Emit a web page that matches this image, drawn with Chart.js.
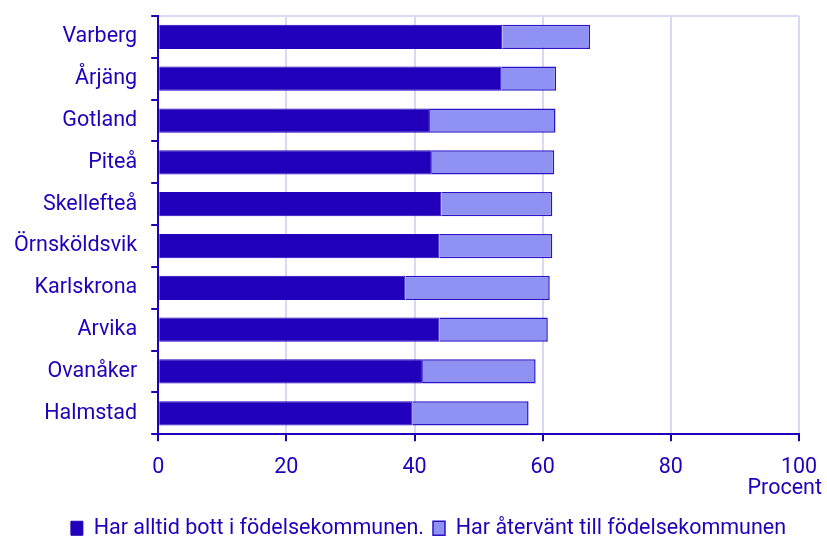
<!DOCTYPE html>
<html>
<head>
<meta charset="utf-8">
<script src="https://cdn.jsdelivr.net/npm/chart.js@4/dist/chart.umd.min.js"></script>
<style>
  html, body { margin: 0; padding: 0; background: #fff; }
  #wrap { width: 827px; height: 541px; }
</style>
</head>
<body>
<div id="wrap"><canvas id="kommunChart"></canvas></div>
<script>
// municipalities, top to bottom
const kommuner = ["Varberg", "Årjäng", "Gotland", "Piteå", "Skellefteå", "Örnsköldsvik", "Karlskrona", "Arvika", "Ovanåker", "Halmstad"];
// share that always lived in birth municipality (percent)
const alltidBott = [53.7, 53.6, 42.4, 42.7, 44.2, 43.9, 38.6, 43.9, 41.3, 39.7];
// share that moved back to birth municipality (percent)
const aterVant = [13.7, 8.5, 19.6, 19.1, 17.3, 17.6, 22.5, 16.9, 17.6, 18.1];
const xTicks = [0, 20, 40, 60, 80, 100];

const textColor = "#2200bb";
const darkBlue = "#2200bb";
const lightBlue = "#8f92f3";
const gridColor = "#d9d9f3";
const fontSize = 21.5;

Chart.defaults.font.family = "Roboto, sans-serif";
Chart.defaults.font.size = fontSize;
Chart.defaults.color = textColor;

// draws the axis unit to the right under the tick labels
const unitLabel = {
  id: "unitLabel",
  afterDraw(chart) {
    const ctx = chart.ctx;
    const xs = chart.scales.x;
    ctx.save();
    ctx.font = fontSize + "px Roboto, sans-serif";
    ctx.fillStyle = textColor;
    ctx.textAlign = "right";
    ctx.textBaseline = "middle";
    ctx.fillText("Procent", xs.right + 23, 489);
    ctx.restore();
  }
};

// the legend in the original sits a bit right of centre
const legendShift = {
  id: "legendShift",
  afterLayout(chart) {
    if (chart.legend) {
      chart.legend.left += 29;
      chart.legend.right += 29;
    }
  }
};

const data = {
  labels: kommuner,
  datasets: [
    {
      label: "Har alltid bott i födelsekommunen.",
      data: alltidBott,
      backgroundColor: darkBlue,
      borderColor: darkBlue,
      borderWidth: 1,
      categoryPercentage: 0.58,
      barPercentage: 1
    },
    {
      label: "Har återvänt till födelsekommunen",
      data: aterVant,
      backgroundColor: lightBlue,
      borderColor: "#2a14c8",
      borderWidth: 1.5,
      categoryPercentage: 0.58,
      barPercentage: 1
    }
  ]
};

const config = {
  type: "bar",
  data,
  plugins: [unitLabel, legendShift],
  options: {
    indexAxis: "y",
    responsive: true,
    maintainAspectRatio: false,
    animation: false,
    layout: { padding: { top: 16, right: 28, left: 0, bottom: -8 } },
    plugins: {
      tooltip: { enabled: false },
      legend: {
        position: "bottom",
        labels: {
          boxWidth: 12,
          boxHeight: 14,
          padding: 9,
          color: textColor,
          font: { size: fontSize }
        }
      }
    },
    scales: {
      x: {
        stacked: true,
        min: 0,
        max: 100,
        afterBuildTicks: (scale) => { scale.ticks = xTicks.map(v => ({ value: v })); },
        afterFit: (scale) => { scale.paddingLeft = 0; scale.paddingRight = 0; },
        ticks: { color: textColor, padding: 14, font: { size: fontSize } },
        grid: {
          color: (ctx) => ctx.tick && ctx.tick.value === 0 ? "transparent" : gridColor,
          lineWidth: 2,
          tickColor: darkBlue,
          tickLength: 7
        },
        border: { color: darkBlue, width: 2 },
        title: { display: true, text: " ", padding: { top: -8, bottom: 0 }, font: { size: fontSize, lineHeight: 1 } }
      },
      y: {
        stacked: true,
        afterFit: (scale) => { scale.paddingTop = 0; scale.paddingBottom = 0; },
        ticks: { color: textColor, padding: 14, font: { size: fontSize } },
        grid: {
          color: (ctx) => ctx.index === 0 ? gridColor : "transparent",
          lineWidth: 2,
          tickColor: darkBlue,
          tickLength: 7
        },
        border: { color: darkBlue, width: 2 }
      }
    }
  }
};

const kommunChart = new Chart(document.getElementById("kommunChart"), config);
</script>
</body>
</html>
